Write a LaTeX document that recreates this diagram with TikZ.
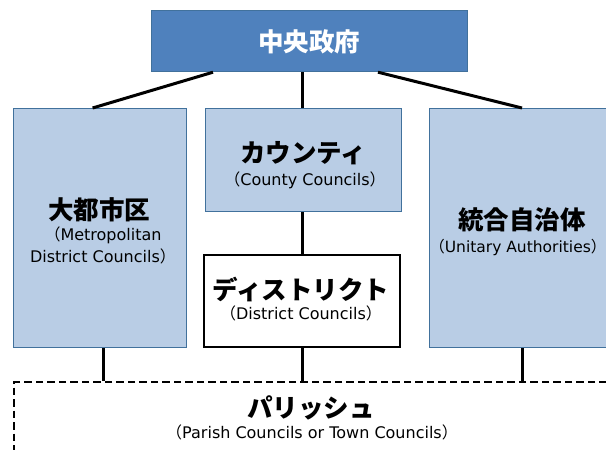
\documentclass[tikz,border=0pt]{standalone}
\usepackage{fontspec}
\setmainfont{DejaVu Sans}
\newfontfamily\jpfont{Noto Sans CJK JP}
\usetikzlibrary{calc}
\definecolor{topfill}{HTML}{4F81BD}
\definecolor{boxfill}{HTML}{B9CDE5}
\definecolor{boxline}{HTML}{41719C}
\newcommand{\lp}{{\jpfont （}}
\newcommand{\rp}{{\jpfont ）}}
\newcommand{\rpshort}{{\jpfont\makebox[0.5em][l]{）}}}
\begin{document}
\begin{tikzpicture}[x=1pt,y=-1pt,
  basebox/.style={rectangle, inner sep=0pt, anchor=north west},
  topbox/.style={basebox, draw=boxline, line width=1.2pt, fill=topfill},
  bluebox/.style={basebox, draw=boxline, line width=1.2pt, fill=boxfill},
  whitebox/.style={basebox, draw=black, line width=2pt, fill=white},
  dashbox/.style={basebox, draw=black, line width=2.2pt, dash pattern=on 7.5pt off 4pt},
  titletext/.style={font=\jpfont\bfseries\fontsize{25.5}{29}\selectfont, inner sep=0pt},
  subtext/.style={font=\fontsize{16}{22}\selectfont, align=center, inner sep=0pt},
  conn/.style={draw=black, line width=3pt}]
\useasboundingbox (0,0) rectangle (606,450);
\clip (0,0) rectangle (606,450);

% boxes
\node[topbox, minimum width=316pt, minimum height=61pt] (gov) at (151,10) {};
\node[bluebox, minimum width=173pt, minimum height=239pt] (metro) at (13,108) {};
\node[bluebox, minimum width=196pt, minimum height=103pt] (county) at (205,108) {};
\node[whitebox, minimum width=196pt, minimum height=92pt] (district) at (203,254) {};
\node[bluebox, minimum width=190pt, minimum height=239pt] (unitary) at (429,108) {};
\node[dashbox, minimum width=620pt, minimum height=100pt] (parish) at (13,381) {};

% texts
\node[titletext, text=white] (govt) at (309,42) {中央政府};
\node[titletext] (metrot) at (99.5,210) {大都市区};
\node[subtext] (metros) at (103,245) {\lp Metropolitan\\District Councils\rp};
\node[titletext] (countyt) at (303,153) {カウンティ};
\node[subtext] (countys) at (305,180) {\lp County Councils\rp};
\node[titletext] (districtt) at (301,290) {ディストリクト};
\node[subtext] (districts) at (301,313) {\lp District Councils\rp};
\node[titletext] (unitaryt) at (522,220) {統合自治体};
\node[subtext, font=\fontsize{15.5}{22}\selectfont] (unitarys) at (514,247) {\lp Unitary Authorities\rpshort};
\node[titletext] (parisht) at (311,408) {パリッシュ};
\node[subtext] (parishs) at (312,432) {\lp Parish Councils or Town Councils\rp};

% connector points
\coordinate (g1) at ($(gov.south west)+(62,0)$);
\coordinate (g3) at ($(gov.south west)+(227,0)$);
\coordinate (m1) at ($(metro.north)+(-7.5,0)$);
\coordinate (m2) at ($(metro.south)+(3,0)$);
\coordinate (c1) at ($(county.north)+(-1.5,0)$);

% connectors
\draw[conn] (g1) -- (m1);
\draw[conn] (c1 |- gov.south) -- (c1);
\draw[conn] (g3) -- (unitary.north -| unitaryt);
\draw[conn] (district.north |- county.south) -- (district.north);
\draw[conn] (m2) -- (m2 |- parish.north);
\draw[conn] (district.south) -- (district.south |- parish.north);
\draw[conn] (unitary.south -| unitaryt) -- (unitaryt |- parish.north);
\end{tikzpicture}
\end{document}
